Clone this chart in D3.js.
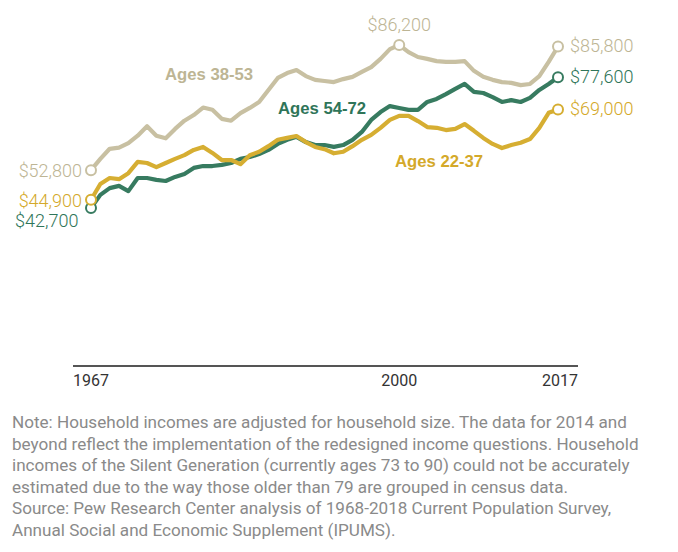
<!DOCTYPE html>
<html><head><meta charset="utf-8">
<script src="https://cdn.jsdelivr.net/npm/d3@7"></script>
<style>
body{margin:0;background:#fff;}
svg{display:block;}
</style></head>
<body>
<svg id="chart" width="678" height="552"></svg>
<script>
const years = d3.range(1967, 2018);
const ages3853 = [52800,55800,58500,58800,60000,62000,64500,62000,61300,63800,66000,67500,69500,68900,66500,66000,68000,69400,71000,74200,77400,78700,79500,77900,76900,76600,76300,77100,77700,79000,80300,82500,85100,86200,84300,83000,82500,81900,81700,81700,81900,79300,77700,76900,76300,76100,75500,75800,77900,81700,85800];
const ages5472 = [42700,46200,48000,48600,47200,50700,50700,50200,49900,51000,51800,53400,53900,53900,54200,54700,55800,56300,57100,58200,59800,60900,61700,60300,59500,59500,59000,59500,60900,63000,66200,68300,69900,69400,68900,68900,71000,71800,73100,74500,75800,73700,73400,72300,71000,71500,71000,72100,74200,75800,77600];
const ages2237 = [44900,49100,50700,50400,52000,55000,54700,53600,54700,55800,56800,58200,59000,57400,55500,55500,54400,56800,57700,59200,60900,61400,61900,60300,59000,58400,57300,57700,59200,60900,62200,64100,66200,67300,67300,65900,64300,64100,63500,63800,65100,63300,61400,59800,58700,59500,60100,61100,64100,68100,69000];
const tickYears = [1967, 2000, 2017];
const seriesNames = ["Ages 38-53", "Ages 54-72", "Ages 22-37"];
const noteLines = [
  "Note: Household incomes are adjusted for household size. The data for 2014 and",
  "beyond reflect the implementation of the redesigned income questions. Household",
  "incomes of the Silent Generation (currently ages 73 to 90) could not be accurately",
  "estimated due to the way those older than 79 are grouped in census data.",
  "Source: Pew Research Center analysis of 1968-2018 Current Population Survey,",
  "Annual Social and Economic Supplement (IPUMS)."
];

const colors = {"Ages 38-53":"#c8c0a2","Ages 54-72":"#377b60","Ages 22-37":"#d6ae32"};
const labelColors = {"Ages 38-53":"#bdb594","Ages 54-72":"#2f7559","Ages 22-37":"#d4a92a"};

const svg = d3.select("#chart");
const x = d3.scaleLinear().domain([1967, 2017]).range([91, 558]);
const y = d3.scaleLinear().domain([0, 86200]).range([368, 45]);

const fmt = v => "$" + d3.format(",")(v);

// axis baseline
svg.append("line").attr("x1",73).attr("x2",578).attr("y1",366).attr("y2",366)
  .attr("stroke","#555").attr("stroke-width",2);

const tickAnchor = ["start","middle","end"];
svg.selectAll("text.tick").data(tickYears).join("text")
  .attr("class","tick")
  .attr("x",(d,i)=> i===0 ? 73 : i===2 ? 578 : x(d))
  .attr("y",386)
  .attr("text-anchor",(d,i)=>tickAnchor[i])
  .attr("font-family","'Roboto',sans-serif")
  .attr("font-size",16).attr("fill","#333")
  .text(d=>d);

const series = [
  {name:"Ages 38-53", values:ages3853},
  {name:"Ages 54-72", values:ages5472},
  {name:"Ages 22-37", values:ages2237}
];

const line = d3.line().x((d,i)=>x(years[i])).y(d=>y(d)).curve(d3.curveLinear);

series.forEach(s=>{
  svg.append("path").datum(s.values)
    .attr("d",line).attr("fill","none")
    .attr("stroke",colors[s.name]).attr("stroke-width",4.2)
    .attr("stroke-linejoin","round").attr("stroke-linecap","round");
});

// markers
function marker(name, yr, val){
  svg.append("circle").attr("cx",x(yr)).attr("cy",y(val)).attr("r",5)
    .attr("fill","#fff").attr("stroke",colors[name]).attr("stroke-width",2);
}
series.forEach(s=>{
  marker(s.name, 1967, s.values[0]);
  marker(s.name, 2017, s.values[s.values.length-1]);
});
marker("Ages 38-53", 2000, ages3853[years.indexOf(2000)]);

const valFont = "'Roboto',sans-serif";
function vlabel(txt, xx, yy, anchor, name){
  svg.append("text").attr("x",xx).attr("y",yy).attr("text-anchor",anchor)
    .attr("font-family",valFont).attr("font-size",18).attr("font-weight",300)
    .attr("fill",labelColors[name]).text(txt);
}
vlabel(fmt(ages3853[0]), x(1967)-9, y(ages3853[0])+7, "end", "Ages 38-53");
vlabel(fmt(ages2237[0]), x(1967)-9, y(ages2237[0])+7, "end", "Ages 22-37");
vlabel(fmt(ages5472[0]), 15, y(ages5472[0])+19, "start", "Ages 54-72");
vlabel(fmt(ages3853[years.indexOf(2000)]), x(2000), y(86200)-14, "middle", "Ages 38-53");
vlabel(fmt(ages3853[50]), x(2017)+12, y(ages3853[50])+6, "start", "Ages 38-53");
vlabel(fmt(ages5472[50]), x(2017)+12, y(ages5472[50])+6, "start", "Ages 54-72");
vlabel(fmt(ages2237[50]), x(2017)+12, y(ages2237[50])+6, "start", "Ages 22-37");

// series labels
const labelPos = {"Ages 38-53":[165,80],"Ages 54-72":[278,114],"Ages 22-37":[395,167]};
seriesNames.forEach(n=>{
  svg.append("text").attr("x",labelPos[n][0]).attr("y",labelPos[n][1])
    .attr("font-family","'Liberation Sans','Roboto',sans-serif").attr("font-weight","bold")
    .attr("font-size",16.7).attr("fill",labelColors[n]).text(n);
});

// note
svg.selectAll("text.note").data(noteLines).join("text")
  .attr("class","note").attr("x",12).attr("y",(d,i)=>428 + i*21.6)
  .attr("font-family","'Roboto',sans-serif")
  .attr("font-size",17.1).attr("fill","#8a8a8a").text(d=>d);
</script>
</body></html>
